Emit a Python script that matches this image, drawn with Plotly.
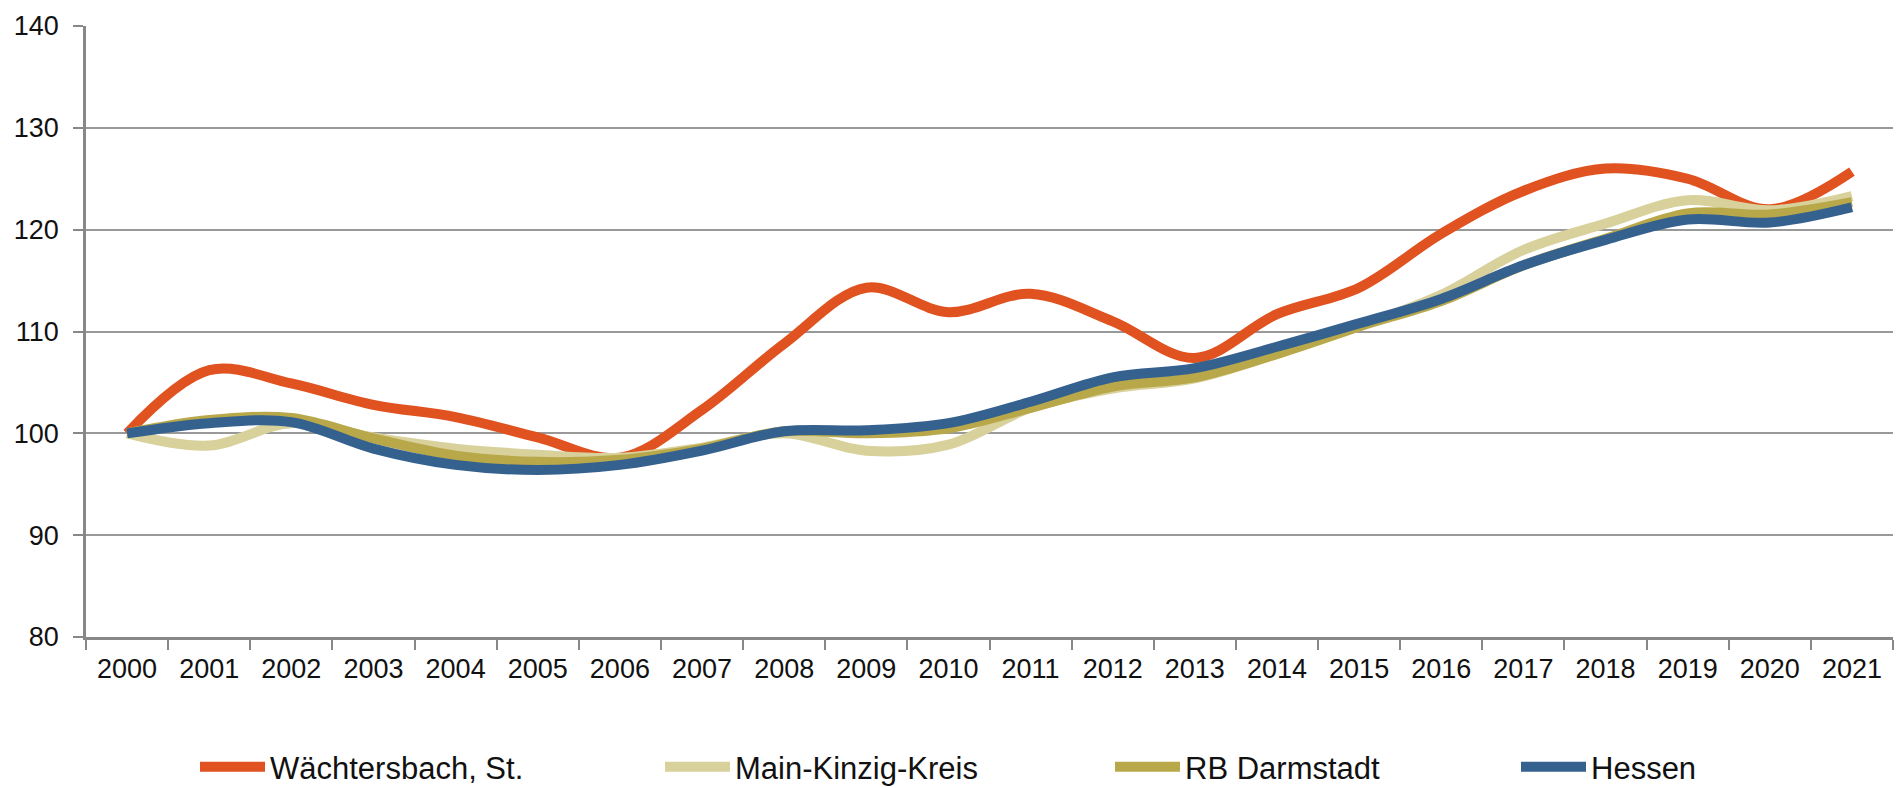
import plotly.graph_objects as go

years = [str(y) for y in range(2000, 2022)]

waechtersbach = [100, 106.2, 104.9, 102.8, 101.6, 99.6, 97.6, 102.3, 108.8, 114.3, 111.9, 113.7,
                 111.0, 107.4, 111.7, 114.3, 119.6, 123.8, 126.0, 125.0, 122.0, 125.7]
main_kinzig = [100, 98.8, 101.0, 99.6, 98.5, 97.9, 97.6, 98.6, 100.0, 98.3, 98.9, 102.5,
               104.4, 105.4, 107.8, 110.5, 113.6, 118.0, 120.6, 122.9, 121.9, 123.3]
rb_darmstadt = [100, 101.3, 101.5, 99.5, 97.8, 97.2, 97.4, 98.5, 100.2, 100.0, 100.5, 102.5,
                104.6, 105.5, 107.8, 110.5, 113.0, 116.5, 119.1, 121.6, 121.5, 122.7]
hessen = [100, 101.0, 101.1, 98.5, 96.9, 96.4, 96.9, 98.3, 100.2, 100.3, 101.0, 103.1,
          105.5, 106.4, 108.5, 110.8, 113.2, 116.5, 119.0, 121.0, 120.7, 122.2]

names = ["Wächtersbach, St.", "Main-Kinzig-Kreis", "RB Darmstadt", "Hessen"]
colors = ["#E0521F", "#D8D19B", "#B8A84A", "#35618F"]
series = [waechtersbach, main_kinzig, rb_darmstadt, hessen]
legend_ids = ["legend", "legend2", "legend3", "legend4"]
legend_x_px = [200, 665, 1115, 1521]

FONT = "Liberation Sans, Arial, sans-serif"
TICK_SIZE = 27
LEG_SIZE = 31

fig = go.Figure()
for name, col, vals, lid in zip(names, colors, series, legend_ids):
    fig.add_trace(go.Scatter(
        x=years, y=vals, name=name, mode="lines",
        line=dict(color=col, width=10, shape="spline", smoothing=1.0),
        legend=lid,
    ))

# page body has an 8px margin; figure sized to fit window
W, H = 1895, 780
L, R, T, B = 78, 10, 18, 151

legend_common = dict(orientation="h", yanchor="middle", xanchor="left",
                     xref="container", yref="container",
                     font=dict(family=FONT, size=LEG_SIZE, color="#111111"),
                     bgcolor="rgba(0,0,0,0)", itemwidth=65, tracegroupgap=0)
layout_legends = {}
for lid, px in zip(legend_ids, legend_x_px):
    layout_legends[lid] = dict(legend_common, x=(px - 13) / W, y=1 - 759 / H)

fig.update_layout(
    width=W, height=H,
    margin=dict(l=L, r=R, t=T, b=B, autoexpand=False),
    paper_bgcolor="white", plot_bgcolor="white",
    font=dict(family=FONT, size=TICK_SIZE, color="#111111"),
    showlegend=True,
    **layout_legends,
    xaxis=dict(
        type="category", range=[-0.5, 21.5], automargin=False,
        tickson="boundaries", ticks="outside", ticklen=10, tickwidth=2, tickcolor="#888888",
        showline=True, linecolor="#888888", linewidth=2.5,
        showgrid=False, zeroline=False,
        tickfont=dict(family=FONT, size=TICK_SIZE, color="#111111"),
        ticklabelstandoff=6,
    ),
    yaxis=dict(
        range=[80, 140], dtick=10, tick0=80, automargin=False,
        ticks="outside", ticklen=10, tickwidth=2, tickcolor="#888888",
        showline=True, linecolor="#888888", linewidth=2.5,
        showgrid=True, gridcolor="#999999", gridwidth=2,
        zeroline=False,
        tickfont=dict(family=FONT, size=TICK_SIZE, color="#111111"),
        ticklabelstandoff=9,
    ),
)

fig.write_html("out.html")
